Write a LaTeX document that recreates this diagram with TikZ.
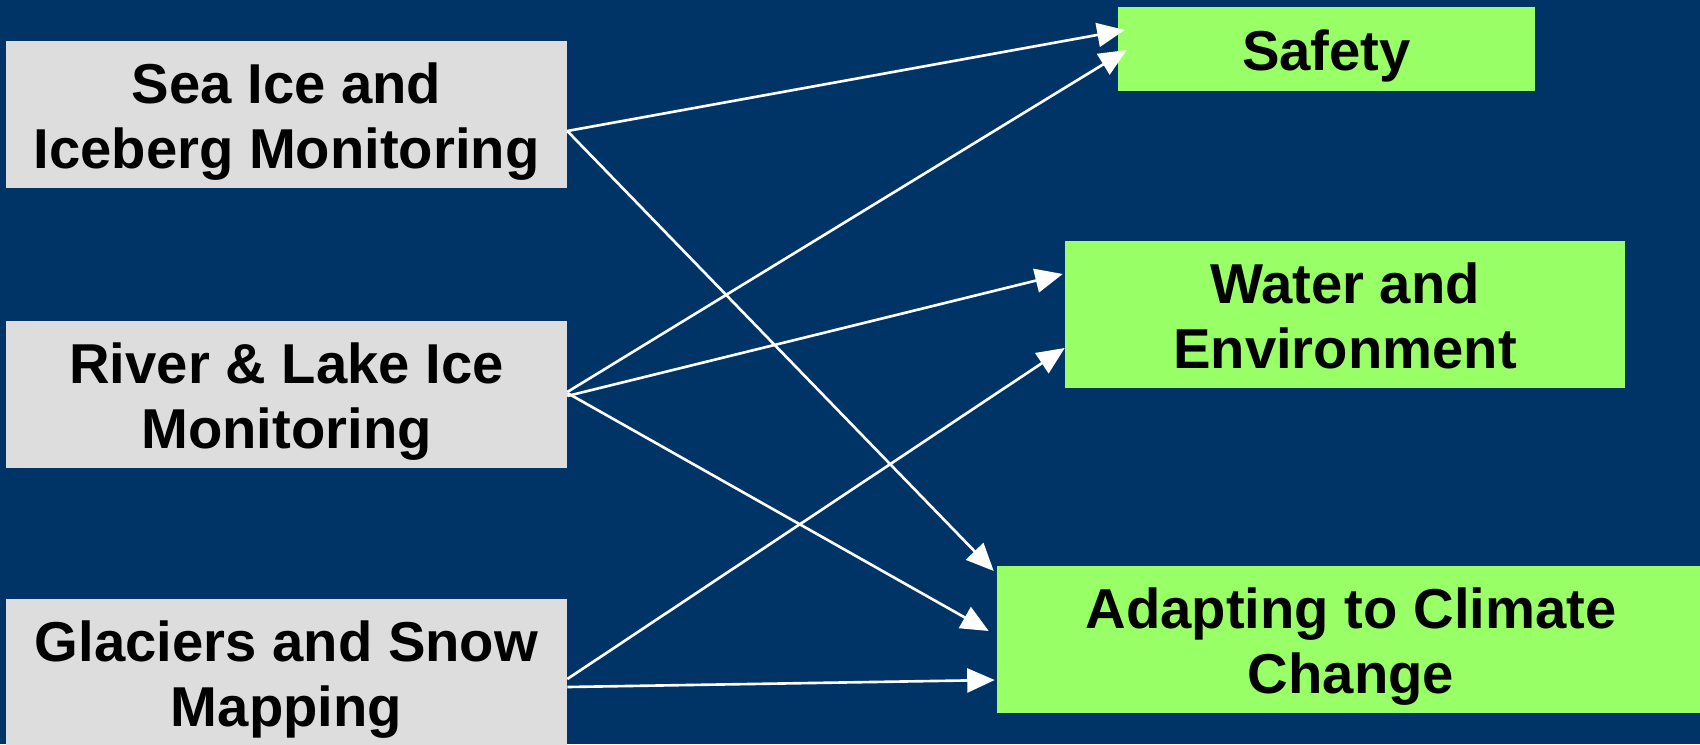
\documentclass[tikz,border=0pt]{standalone}
\usepackage{fontspec}
\setmainfont{Liberation Sans}
\usetikzlibrary{calc,arrows.meta}
\definecolor{navy}{RGB}{0,51,102}
\definecolor{boxgray}{RGB}{221,221,221}
\definecolor{boxgreen}{RGB}{153,255,102}

\begin{document}
\begin{tikzpicture}[x=0.02cm, y=-0.02cm,
  topic/.style = {fill=boxgray, inner sep=0pt, align=center, minimum height=2.94cm,
    font=\fontsize{32}{37}\selectfont\bfseries, text height=69pt, text depth=7pt},
  goal/.style = {topic, fill=boxgreen},
  link/.style = {white, line width=1.5pt, -{Triangle[length=0.55cm, width=0.48cm]}}]
\useasboundingbox (0,0) rectangle (1700,744);
\fill[navy] (0,0) rectangle (1700,744);
% observing
\node[topic, minimum width=11.22cm] (sea) at (286.5,114.5) {Sea Ice and\\Iceberg Monitoring};
\node[topic, minimum width=11.22cm] (river) at (286.5,394.5) {River \& Lake Ice\\Monitoring};
\node[topic, minimum width=11.22cm] (glacier) at (286.5,672.5) {Glaciers and Snow\\Mapping};
% benefits
\node[goal, minimum width=8.34cm, minimum height=1.68cm, text height=32pt] (safety) at (1326.5,49) {Safety};
\node[goal, minimum width=11.2cm] (water) at (1345,314.5) {Water and\\Environment};
\node[goal, minimum width=14.16cm] (adapt) at (1351,639.5) {Adapting to Climate\\Change};
% links
\draw[link] ($(sea.east)+(0,16.5)$) -- ($(safety.west)+(7,-19)$);
\draw[link] ($(sea.east)+(0,16.5)$) -- ($(adapt.west)+(-3,-68.5)$);
\draw[link] ($(river.east)+(0,-2.5)$) -- ($(safety.west)+(9,1)$);
\draw[link] ($(river.east)+(0,1.5)$) -- ($(water.west)+(-2,-40.5)$);
\draw[link] ($(river.east)+(0,-1.5)$) -- ($(adapt.west)+(-8,-8.5)$);
\draw[link] ($(glacier.east)+(0,6.5)$) -- ($(water.west)+(0,33.5)$);
\draw[link] ($(glacier.east)+(0,14.5)$) -- ($(adapt.west)+(-2,40.5)$);
\end{tikzpicture}
\end{document}
